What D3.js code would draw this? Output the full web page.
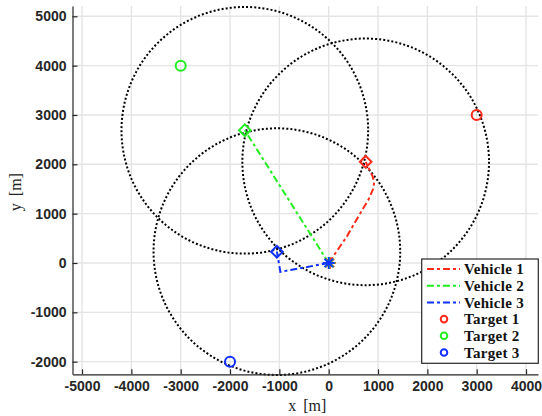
<!DOCTYPE html>
<html>
<head>
<meta charset="utf-8">
<script src="https://cdn.jsdelivr.net/npm/d3@7"></script>
<style>
  body { margin: 0; background: #fff; }
  svg { display: block; }
</style>
</head>
<body>
<div id="chart"></div>
<script>
// vehicle trajectories (metres)
var v1x = [0, 370, 640, 810, 910, 920, 890, 750];
var v1y = [0, 540, 1010, 1290, 1520, 1650, 1760, 2050];
var v2x = [0, -1700];
var v2y = [0, 2690];
var v3x = [0, -980, -1020, -1050];
var v3y = [0, -180, 60, 230];

// targets
var targetX = [3000, -3000, -2000];
var targetY = [3000, 4000, -2000];

var colors = ["#ff2a1a", "#22ee22", "#1030ff"];
var vehicleNames = ["Vehicle 1", "Vehicle 2", "Vehicle 3"];
var targetNames = ["Target 1", "Target 2", "Target 3"];
var sensorRange = 2500;

var xTicks = [-5000, -4000, -3000, -2000, -1000, 0, 1000, 2000, 3000, 4000];
var yTicks = [-2000, -1000, 0, 1000, 2000, 3000, 4000, 5000];

function drawChart() {
    var width = 542, height = 416;
    var pLeft = 72.5, pRight = 538, pTop = 6, pBottom = 374.3;

    var x = d3.scaleLinear().domain([-5193, 4243]).range([pLeft, pRight]);
    var y = d3.scaleLinear().domain([-2256, 5209]).range([pBottom, pTop]);

    var svg = d3.select("#chart").append("svg")
        .attr("width", width)
        .attr("height", height)
        .style("background", "#fff");

    // grid
    var grid = svg.append("g").attr("stroke", "#e4e4e4").attr("stroke-width", 1.4);
    grid.selectAll(".gx").data(xTicks).join("line")
        .attr("class", "gx")
        .attr("x1", d => x(d)).attr("x2", d => x(d))
        .attr("y1", pTop).attr("y2", pBottom);
    grid.selectAll(".gy").data(yTicks).join("line")
        .attr("class", "gy")
        .attr("y1", d => y(d)).attr("y2", d => y(d))
        .attr("x1", pLeft).attr("x2", pRight);

    var plot = svg.append("g");

    var paths = [
        d3.zip(v1x, v1y),
        d3.zip(v2x, v2y),
        d3.zip(v3x, v3y)
    ];
    var ends = paths.map(p => p[p.length - 1]);

    // sensor range circles around final positions
    plot.selectAll(".range").data(ends).join("circle")
        .attr("class", "range")
        .attr("cx", d => x(d[0]))
        .attr("cy", d => y(d[1]))
        .attr("r", x(sensorRange) - x(0))
        .attr("fill", "none")
        .attr("stroke", "#000")
        .attr("stroke-width", 2)
        .attr("stroke-dasharray", "2,2.1");

    var line = d3.line().x(d => x(d[0])).y(d => y(d[1]));

    plot.selectAll(".traj").data(paths).join("path")
        .attr("class", "traj")
        .attr("d", line)
        .attr("fill", "none")
        .attr("stroke", (d, i) => colors[i])
        .attr("stroke-width", 2)
        .attr("stroke-dasharray", "7,3,3,3");

    // final positions (diamonds)
    var diamond = d3.symbol().type(d3.symbolSquare).size(68);
    plot.selectAll(".end").data(ends).join("path")
        .attr("class", "end")
        .attr("d", diamond)
        .attr("transform", d => `translate(${x(d[0])},${y(d[1])}) rotate(45)`)
        .attr("fill", "none")
        .attr("stroke", (d, i) => colors[i])
        .attr("stroke-width", 2);

    // start positions (asterisks)
    var starts = paths.map(p => p[0]);
    starts.forEach((s, i) => {
        var g = plot.append("g")
            .attr("transform", `translate(${x(s[0]) + (2 - i) * 0.6},${y(s[1])})`)
            .attr("stroke", colors[i])
            .attr("stroke-width", 1.8);
        var r = 6;
        [0, 45, 90, 135].forEach(a => {
            var rad = a * Math.PI / 180;
            g.append("line")
                .attr("x1", -r * Math.cos(rad)).attr("y1", -r * Math.sin(rad))
                .attr("x2", r * Math.cos(rad)).attr("y2", r * Math.sin(rad));
        });
    });

    // targets
    plot.selectAll(".target").data(targetX).join("circle")
        .attr("class", "target")
        .attr("cx", d => x(d))
        .attr("cy", (d, i) => y(targetY[i]))
        .attr("r", 5)
        .attr("fill", "none")
        .attr("stroke", (d, i) => colors[i])
        .attr("stroke-width", 2);

    // axes
    var axisColor = "#262626";
    var fmt = d => String(d);
    var xAxis = svg.append("g")
        .attr("transform", `translate(0,${pBottom})`)
        .call(d3.axisBottom(x).tickValues(xTicks).tickFormat(fmt).tickSizeInner(-5).tickSizeOuter(0).tickPadding(9));
    var yAxis = svg.append("g")
        .attr("transform", `translate(${pLeft},0)`)
        .call(d3.axisLeft(y).tickValues(yTicks).tickFormat(fmt).tickSizeInner(-5).tickSizeOuter(0).tickPadding(6));

    [xAxis, yAxis].forEach(a => {
        a.select(".domain").attr("stroke", axisColor).attr("stroke-width", 1.2);
        a.selectAll(".tick line").attr("stroke", axisColor).attr("stroke-width", 1.2);
        a.selectAll(".tick text")
            .attr("fill", axisColor)
            .style("font-family", "'Liberation Sans', Arial, sans-serif")
            .style("font-weight", "bold")
            .style("font-size", "14px");
    });
    xAxis.selectAll(".tick text").attr("dy", "0.55em");

    // axis labels
    svg.append("text")
        .attr("x", (pLeft + pRight) / 2 + 2)
        .attr("y", 411)
        .attr("text-anchor", "middle")
        .style("font-family", "'Liberation Serif', 'Times New Roman', serif")
        .style("font-size", "16px")
        .style("word-spacing", "3px")
        .attr("fill", "#222")
        .text("x [m]");

    svg.append("text")
        .attr("transform", `translate(21,${(pTop + pBottom) / 2 + 2}) rotate(-90)`)
        .attr("text-anchor", "middle")
        .style("font-family", "'Liberation Serif', 'Times New Roman', serif")
        .style("font-size", "16px")
        .style("word-spacing", "3px")
        .attr("fill", "#222")
        .text("y [m]");

    // legend
    var legend = svg.append("g");
    legend.append("rect")
        .attr("x", 421.7).attr("y", 259)
        .attr("width", 116.6).attr("height", 104.3)
        .attr("fill", "#fff")
        .attr("stroke", axisColor)
        .attr("stroke-width", 1.2);

    var rowY = d3.scaleLinear().domain([0, 5]).range([269, 352.5]);
    var legendItems = vehicleNames.map((n, i) => ({name: n, type: "line", color: colors[i]}))
        .concat(targetNames.map((n, i) => ({name: n, type: "marker", color: colors[i]})));

    legendItems.forEach((item, i) => {
        var yy = rowY(i);
        if (item.type === "line") {
            legend.append("line")
                .attr("x1", 427).attr("x2", 460)
                .attr("y1", yy).attr("y2", yy)
                .attr("stroke", item.color)
                .attr("stroke-width", 2)
                .attr("stroke-dasharray", "7,3,3,3");
        } else {
            legend.append("circle")
                .attr("cx", 444).attr("cy", yy)
                .attr("r", 3.3)
                .attr("fill", "none")
                .attr("stroke", item.color)
                .attr("stroke-width", 2);
        }
        legend.append("text")
            .attr("x", 464)
            .attr("y", yy)
            .attr("dy", "0.35em")
            .style("font-family", "'Liberation Serif', 'Times New Roman', serif")
            .style("font-weight", "bold")
            .style("font-size", "15px")
            .style("letter-spacing", "0.3px")
            .attr("fill", "#111")
            .text(item.name);
    });
}

drawChart();
</script>
</body>
</html>
